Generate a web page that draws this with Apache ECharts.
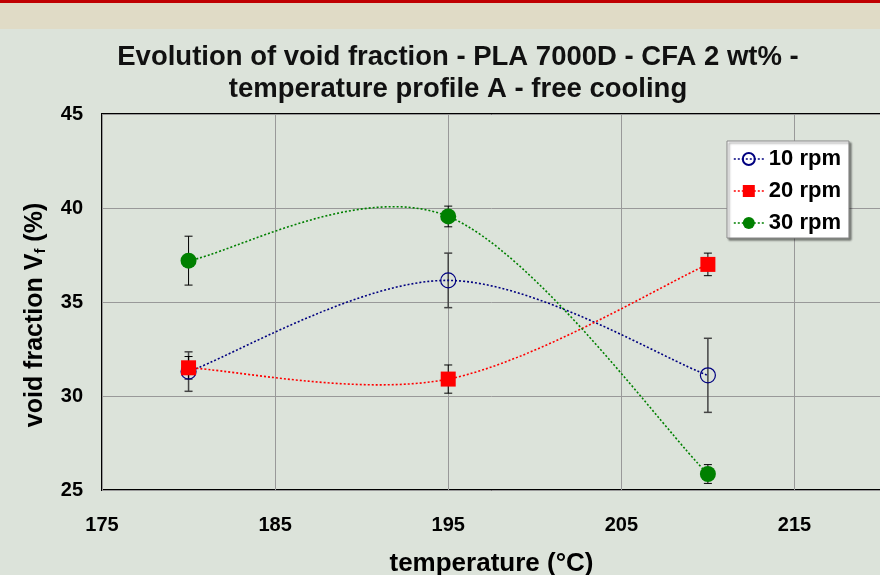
<!DOCTYPE html>
<html>
<head>
<meta charset="utf-8">
<script src="https://cdn.jsdelivr.net/npm/echarts@6/dist/echarts.min.js"></script>
<style>
  html, body { margin: 0; padding: 0; background: #dce3da; }
  #chart { width: 880px; height: 575px; }
</style>
</head>
<body>
<div id="chart"></div>
<script>
// temperature (°C)
const temps = [180, 195, 210];

// void fraction (%) and half-width of error bars
const rpm10 = [31.3, 36.15, 31.1];
const rpm10Err = [1.05, 1.45, 1.97];
const rpm20 = [31.5, 30.9, 37.0];
const rpm20Err = [0.6, 0.75, 0.6];
const rpm30 = [37.2, 39.55, 25.85];
const rpm30Err = [1.3, 0.55, 0.5];

const xTicks = [175, 185, 195, 205, 215];
const yTicks = [25, 30, 35, 40, 45];

const FONT = "Liberation Sans";
const DOTS = [2, 2];

const chartDom = document.getElementById("chart");
const myChart = echarts.init(chartDom);

const toPoints = (vals) => temps.map((t, i) => [t, vals[i]]);
const toErrors = (vals, errs) =>
  temps.map((t, i) => [t, vals[i] - errs[i], vals[i] + errs[i]]);

const errorSeries = (name, vals, errs, color, width) => ({
  type: "custom",
  name: name + " err",
  z: 1,
  silent: true,
  renderItem: (params, api) => {
    const x = api.value(0);
    const lo = api.coord([x, api.value(1)]);
    const hi = api.coord([x, api.value(2)]);
    const cap = 4;
    const style = { stroke: color, lineWidth: width };
    return {
      type: "group",
      children: [
        { type: "line", shape: { x1: lo[0], y1: lo[1], x2: hi[0], y2: hi[1] }, style },
        { type: "line", shape: { x1: lo[0] - cap, y1: lo[1], x2: lo[0] + cap, y2: lo[1] }, style },
        { type: "line", shape: { x1: hi[0] - cap, y1: hi[1], x2: hi[0] + cap, y2: hi[1] }, style },
      ],
    };
  },
  data: toErrors(vals, errs),
});

// spreadsheet-style smoothed connector through the data points (bezier, tangents from neighbours)
const curveSeries = (name, vals, color) => ({
  type: "custom",
  name: name + " curve",
  z: 2,
  silent: true,
  renderItem: (params, api) => {
    if (params.dataIndex !== 0) return null;
    const pts = temps.map((t, i) => api.coord([t, vals[i]]));
    const n = pts.length;
    let d = "M" + pts[0][0] + "," + pts[0][1];
    for (let i = 0; i < n - 1; i++) {
      const p0 = pts[Math.max(i - 1, 0)];
      const p1 = pts[i];
      const p2 = pts[i + 1];
      const p3 = pts[Math.min(i + 2, n - 1)];
      const c1x = p1[0] + (p2[0] - p0[0]) / 6;
      const c1y = p1[1] + (p2[1] - p0[1]) / 6;
      const c2x = p2[0] - (p3[0] - p1[0]) / 6;
      const c2y = p2[1] - (p3[1] - p1[1]) / 6;
      d += " C" + c1x + "," + c1y + " " + c2x + "," + c2y + " " + p2[0] + "," + p2[1];
    }
    return {
      type: "path",
      shape: { pathData: d },
      style: { fill: "none", stroke: color, lineWidth: 1.6, lineDash: DOTS },
    };
  },
  data: toPoints(vals),
});

const markerSeries = (name, vals, symbol, size, color, itemStyle, z) => ({
  name,
  type: "line",
  z,
  data: toPoints(vals),
  symbol,
  symbolSize: size,
  lineStyle: { color, width: 1.6, type: DOTS, opacity: 0 },
  itemStyle,
});

const option = {
  backgroundColor: "#dce3da",
  animation: false,
  graphic: [
    { type: "rect", left: 0, top: 0, shape: { width: 880, height: 29 }, style: { fill: "#e0dbc6" }, z: -10 },
    { type: "rect", left: 0, top: 0, shape: { width: 880, height: 3 }, style: { fill: "#c00000" }, z: -9 },
  ],
  title: {
    text: "Evolution of void fraction - PLA 7000D - CFA 2 wt% -\ntemperature profile A - free cooling",
    left: 453,
    top: 36,
    textAlign: "center",
    textStyle: {
      fontFamily: FONT,
      fontSize: 27.5,
      fontWeight: "bold",
      color: "#111",
      lineHeight: 32,
    },
  },
  legend: {
    data: [
      { name: "10 rpm", lineStyle: { color: "#000080", width: 1.6, type: DOTS, opacity: 1 } },
      { name: "20 rpm", lineStyle: { color: "#ff0000", width: 1.6, type: DOTS, opacity: 1 } },
      { name: "30 rpm", lineStyle: { color: "#008000", width: 1.6, type: DOTS, opacity: 1 } },
    ],
    orient: "vertical",
    left: 727,
    top: 141,
    backgroundColor: "#ffffff",
    borderColor: "#888",
    borderWidth: 1,
    borderRadius: 0,
    shadowColor: "rgba(0,0,0,0.45)",
    shadowBlur: 2,
    shadowOffsetX: 2,
    shadowOffsetY: 2,
    padding: [7, 8, 4, 6],
    itemWidth: 30,
    itemHeight: 15,
    itemGap: 10,
    textStyle: {
      fontFamily: FONT,
      fontSize: 22,
      fontWeight: "bold",
      color: "#000",
    },
  },
  grid: {
    left: 102,
    right: -1,
    top: 114,
    bottom: 85,
    outerBoundsMode: "none",
    show: true,
    borderColor: "#000",
    borderWidth: 2,
    backgroundColor: "transparent",
  },
  xAxis: {
    type: "value",
    min: xTicks[0],
    max: 220,
    interval: 10,
    name: "temperature (°C)",
    nameLocation: "middle",
    nameGap: 61,
    nameTextStyle: {
      fontFamily: FONT,
      fontSize: 26,
      fontWeight: "bold",
      color: "#000",
    },
    axisLine: { show: false },
    axisTick: { show: false },
    axisLabel: {
      margin: 25,
      fontFamily: FONT,
      fontSize: 20,
      fontWeight: "bold",
      color: "#000",
      formatter: (v) => (xTicks.includes(v) ? String(v) : ""),
    },
    splitLine: { show: true, lineStyle: { color: "#999", width: 1 } },
  },
  yAxis: {
    type: "value",
    min: yTicks[0],
    max: yTicks[yTicks.length - 1],
    interval: 5,
    name: "{a|void fraction V}{s|f}{a| (%)}",
    nameLocation: "middle",
    nameGap: 54,
    nameTextStyle: {
      padding: [0, 26, 0, 0],
      rich: {
        a: { fontFamily: FONT, fontSize: 25, fontWeight: "bold", color: "#000" },
        s: { fontFamily: FONT, fontSize: 15, fontWeight: "bold", color: "#000", padding: [10, 0, 0, 0] },
      },
    },
    axisLine: { show: false },
    axisTick: { show: false },
    axisLabel: {
      margin: 19,
      fontFamily: FONT,
      fontSize: 20,
      fontWeight: "bold",
      color: "#000",
    },
    splitLine: { show: true, lineStyle: { color: "#999", width: 1 } },
  },
  series: [
    errorSeries("10 rpm", rpm10, rpm10Err, "#444", 1.5),
    errorSeries("20 rpm", rpm20, rpm20Err, "#000", 1),
    errorSeries("30 rpm", rpm30, rpm30Err, "#000", 1),
    curveSeries("10 rpm", rpm10, "#000080"),
    curveSeries("20 rpm", rpm20, "#ff0000"),
    curveSeries("30 rpm", rpm30, "#008000"),
    markerSeries("10 rpm", rpm10, "circle", 15, "#000080",
      { color: "rgba(0,0,0,0)", borderColor: "#000080", borderWidth: 1.2 }, 3),
    markerSeries("20 rpm", rpm20, "rect", 15, "#ff0000", { color: "#ff0000" }, 4),
    markerSeries("30 rpm", rpm30, "circle", 16, "#008000", { color: "#008000" }, 5),
  ],
};

myChart.setOption(option);

const handleResize = () => myChart.resize();
window.addEventListener("resize", handleResize);
</script>
</body>
</html>
